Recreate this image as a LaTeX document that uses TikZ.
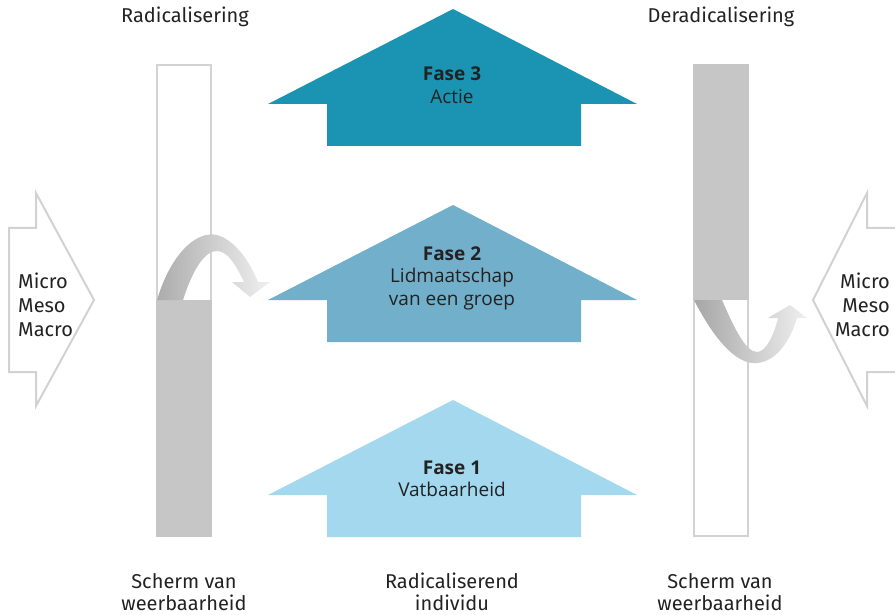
\documentclass[tikz,border=0pt]{standalone}
\usepackage{fontspec}
\setmainfont{Fira Sans}
\newfontfamily\phasefont{Open Sans}
\definecolor{cthree}{HTML}{1A94B2}
\definecolor{ctwo}{HTML}{72AFCA}
\definecolor{cone}{HTML}{A3D8EE}
\definecolor{colfill}{HTML}{C6C6C6}
\definecolor{colline}{HTML}{D2D2D2}
\definecolor{txt}{HTML}{222222}
\begin{document}
\begin{tikzpicture}[x=1pt,y=-1pt,
  phase/.pic={\fill (-185,95) -- (0,0) -- (184,95) -- (128,95) -- (128,137) -- (-126,137) -- (-126,95) -- cycle;},
  phasetxt/.style={font=\phasefont\fontsize{19}{22.5}\selectfont, text=txt, align=center, inner sep=0pt},
  lbl/.style={font=\fontsize{20}{22}\selectfont, text=txt, align=center, inner sep=0pt},
  sidelbl/.style={font=\fontsize{20}{24}\selectfont, text=txt, inner sep=0pt},
  sidearrow/.style={draw=colline, line width=2pt, fill=white, line join=miter},
  column/.style={draw=colline, line width=2pt},
  bend/.style={left color=#1, right color=gray!12, draw=none}
]
\useasboundingbox (0,0) rectangle (895,615);

% phase arrows
\pic[fill=cthree] at (453,9) {phase};
\pic[fill=ctwo] at (453,205) {phase};
\pic[fill=cone] at (453,400) {phase};
\node[phasetxt] (f3) at (452,85) {\textbf{Fase 3}\\Actie};
\node[phasetxt] (f2) at (452,278) {\textbf{Fase 2}\\Lidmaatschap\\van een groep};
\node[phasetxt] (f1) at (452,479) {\textbf{Fase 1}\\Vatbaarheid};

% columns
\draw[column] (157,65) rectangle (211,536);
\fill[colfill] (156,300) rectangle (212,537);
\draw[column] (694,65) rectangle (748,536);
\fill[colfill] (693,64) rectangle (749,300);

% curved arrows
\shade[bend=gray!65] (157,300) .. controls (172,250) and (200,228) .. (220,236)
  .. controls (236,242) and (250,262) .. (258,282) -- (270,282) -- (250,297) -- (232,282) -- (244,282)
  .. controls (236,265) and (228,252) .. (218,251) .. controls (204,250) and (192,272) .. (183,300) -- cycle;
\shade[bend=gray!70] (694,300) .. controls (712,335) and (735,366) .. (758,363)
  .. controls (780,360) and (792,335) .. (797,318) -- (807,318) -- (790,305) -- (768,318) -- (778,318)
  .. controls (774,335) and (766,352) .. (757,352) .. controls (745,352) and (733,325) .. (722,300) -- cycle;

% side arrows
\draw[sidearrow] (9,228) -- (36,228) -- (36,193) -- (94,300) -- (36,406) -- (36,372) -- (9,372) -- cycle;
\draw[sidearrow] (905,228) -- (867,228) -- (867,193) -- (813,300) -- (867,406) -- (867,372) -- (905,372);
\node[sidelbl, anchor=west, align=left] (mL) at (18,305) {Micro\\Meso\\Macro};
\node[sidelbl, anchor=east, align=right] (mR) at (890,305) {Micro\\Meso\\Macro};

% labels
\node[lbl] (rad) at (185,17) {Radicalisering};
\node[lbl] (derad) at (721,17) {Deradicalisering};
\node[lbl] (sL) at (184,592) {Scherm van\\weerbaarheid};
\node[lbl] (ind) at (452,592) {Radicaliserend\\individu};
\node[lbl] (sR) at (720,592) {Scherm van\\weerbaarheid};
\end{tikzpicture}
\end{document}
